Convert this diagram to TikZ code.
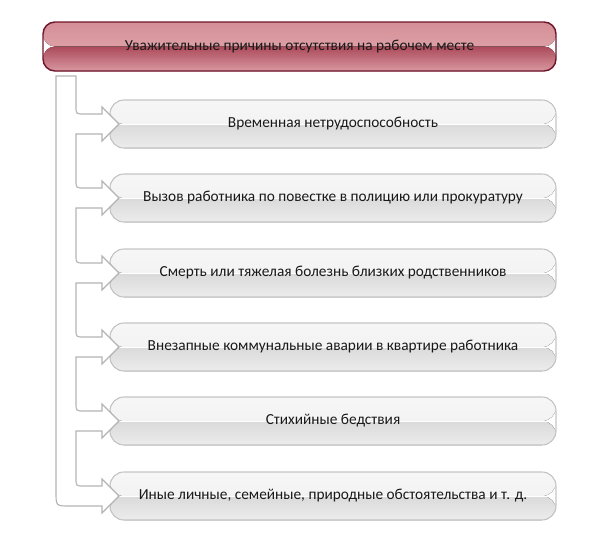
\documentclass[tikz,border=0pt]{standalone}
\usepackage{fontspec}
\setmainfont{Carlito}
\definecolor{hdrborder}{RGB}{112,22,44}
\definecolor{hdrtop}{RGB}{212,142,150}
\definecolor{hdrmidup}{RGB}{228,176,180}
\definecolor{hdrmiddown}{RGB}{172,74,90}
\definecolor{hdrbot}{RGB}{216,152,160}
\definecolor{boxborder}{RGB}{196,196,196}
\definecolor{boxtop}{RGB}{246,246,246}
\definecolor{boxmidup}{RGB}{240,240,240}
\definecolor{boxmiddown}{RGB}{218,218,218}
\definecolor{boxbot}{RGB}{236,236,236}
\definecolor{bandline}{RGB}{180,180,180}
\definecolor{txt}{RGB}{25,25,25}
\tikzset{
  hdrbox/.style={draw=hdrborder, line width=1.1pt, rounded corners=9pt,
    minimum width=384.75pt, minimum height=36.75pt, inner sep=0pt,
    font=\fontsize{11.5}{13}\selectfont, text=txt,
    path picture={
      \fill[top color=hdrtop, bottom color=hdrmidup]
        (path picture bounding box.north west) rectangle (path picture bounding box.east);
      \fill[top color=hdrmiddown, bottom color=hdrbot]
        (path picture bounding box.west) rectangle (path picture bounding box.south east);
    }},
  graybox/.style={draw=boxborder, line width=0.8pt, rounded corners=10.5pt,
    minimum width=334.5pt, minimum height=36pt, inner sep=0pt,
    font=\fontsize{11.5}{13}\selectfont, text=txt,
    path picture={
      \fill[top color=boxtop, bottom color=boxmidup]
        (path picture bounding box.north west) rectangle (path picture bounding box.east);
      \fill[top color=boxmiddown, bottom color=boxbot]
        (path picture bounding box.west) rectangle (path picture bounding box.south east);
      \draw[white, line width=0.6pt]
        (path picture bounding box.west) -- (path picture bounding box.east);
    }},
  band/.style={draw=bandline, fill=white, line width=0.85pt, line join=miter}
}
\begin{document}
\begin{tikzpicture}[x=0.75pt, y=-0.75pt]
\useasboundingbox (0,0) rectangle (600,539);
\node[hdrbox] (hdr) at (299.5,46.5) {Уважительные причины отсутствия на рабочем месте};
\node[graybox] (b1) at (333,124) {Временная нетрудоспособность};
\node[graybox] (b2) at (333,198) {Вызов работника по повестке в полицию или прокуратуру};
\node[graybox] (b3) at (333,273) {Смерть или тяжелая болезнь близких родственников};
\node[graybox] (b4) at (333,347) {Внезапные коммунальные аварии в квартире работника};
\node[graybox] (b5) at (333,421) {Стихийные бедствия};
\node[graybox] (b6) at (333,496) {Иные личные, семейные, природные обстоятельства и т. д.};
\draw[band]
  (76,76) -- (56,76) -- (56,492) .. controls (56,506) .. (70,506)
  -- (102,506) -- (102,513) -- (119,496) -- (102,479) -- (102,486)
  -- (84,486) .. controls (76,486) .. (76,478)
  -- (76,431) -- (102,431) -- (102,438) -- (119,421) -- (102,404) -- (102,411)
  -- (84,411) .. controls (76,411) .. (76,403)
  -- (76,357) -- (102,357) -- (102,364) -- (119,347) -- (102,330) -- (102,337)
  -- (84,337) .. controls (76,337) .. (76,329)
  -- (76,283) -- (102,283) -- (102,290) -- (119,273) -- (102,256) -- (102,263)
  -- (84,263) .. controls (76,263) .. (76,255)
  -- (76,208) -- (102,208) -- (102,215) -- (119,198) -- (102,181) -- (102,188)
  -- (84,188) .. controls (76,188) .. (76,180)
  -- (76,134) -- (102,134) -- (102,141) -- (119,124) -- (102,107) -- (102,114)
  -- (84,114) .. controls (76,114) .. (76,106)
  -- cycle;
\end{tikzpicture}
\end{document}
